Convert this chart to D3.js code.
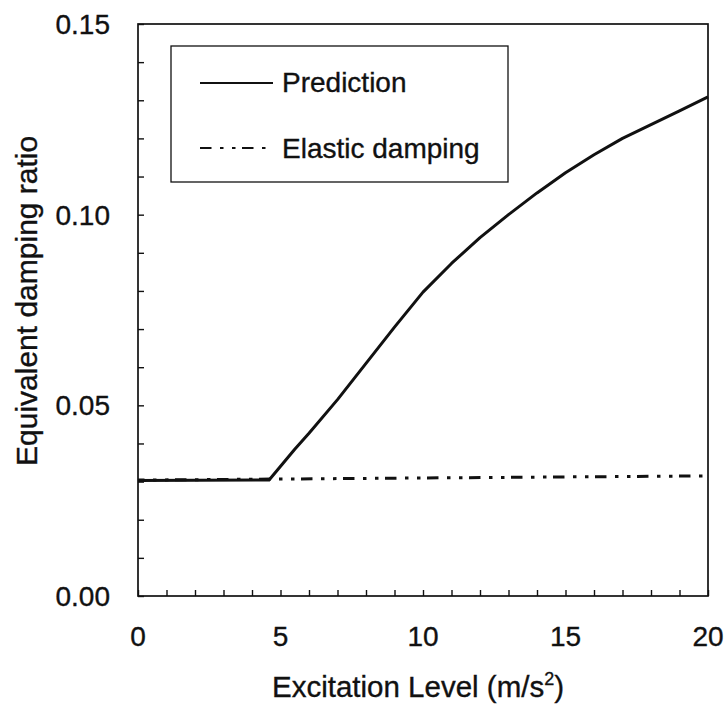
<!DOCTYPE html>
<html>
<head>
<meta charset="utf-8">
<script src="https://cdn.jsdelivr.net/npm/d3@7/dist/d3.min.js"></script>
<style>
  html, body { margin: 0; padding: 0; background: #fff; }
  svg { display: block; }
  text { font-family: "Liberation Sans", Arial, sans-serif; fill: #111; stroke: #111; stroke-width: 0.35px; }
</style>
</head>
<body>
<script>
// Excitation level (m/s^2) and predicted equivalent damping ratio
const predictionX = [0, 4.6, 5.5, 6, 7, 8, 9, 10, 11, 12, 13, 14, 15, 16, 17, 18, 19, 20];
const predictionY = [0.0303, 0.0304, 0.0385, 0.0427, 0.0515, 0.0610, 0.0705, 0.0797, 0.0872,
                     0.0940, 0.1000, 0.1057, 0.1110, 0.1157, 0.1200, 0.1236, 0.1272, 0.1309];

// Elastic (small-strain) damping reference line
const elasticX = [0, 20];
const elasticY = [0.0304, 0.0315];

const xTickLabels = [0, 5, 10, 15, 20];
const yTickLabels = [0.00, 0.05, 0.10, 0.15];
const seriesNames = ["Prediction", "Elastic damping"];

const W = 728, H = 706;
const margin = { left: 138, right: 20, top: 24, bottom: 110 };
const ink = "#111";
const dashDot = "11.5,8.5,3.5,8.5,3.5,6.5";

const svg = d3.select("body").append("svg").attr("width", W).attr("height", H);

const x = d3.scaleLinear().domain([0, 20]).range([margin.left, W - margin.right]);
const y = d3.scaleLinear().domain([0, 0.15]).range([H - margin.bottom, margin.top]);

// Frame
svg.append("rect")
  .attr("x", x(0)).attr("y", y(0.15))
  .attr("width", x(20) - x(0)).attr("height", y(0) - y(0.15))
  .attr("fill", "none").attr("stroke", ink).attr("stroke-width", 1.7);

// Inward ticks, one per unit on x and per 0.01 on y
const xAxis = d3.axisTop(x).tickValues(d3.range(0, 21, 1)).tickSize(6).tickFormat("");
svg.append("g").attr("transform", `translate(0,${y(0)})`).call(xAxis)
  .call(g => g.select(".domain").remove())
  .call(g => g.selectAll("line").attr("stroke", ink).attr("stroke-width", 1.4));

const yAxis = d3.axisRight(y).tickValues(d3.range(0, 16, 1).map(d => d / 100)).tickSize(6).tickFormat("");
svg.append("g").attr("transform", `translate(${x(0)},0)`).call(yAxis)
  .call(g => g.select(".domain").remove())
  .call(g => g.selectAll("line").attr("stroke", ink).attr("stroke-width", 1.4));

// Tick labels
svg.append("g").selectAll("text").data(xTickLabels).join("text")
  .attr("x", d => x(d)).attr("y", 646)
  .attr("text-anchor", "middle").attr("font-size", 28)
  .text(d => d);

svg.append("g").selectAll("text").data(yTickLabels).join("text")
  .attr("x", 110).attr("y", d => y(d) + 10)
  .attr("text-anchor", "end").attr("font-size", 28)
  .text(d => d.toFixed(2));

// Axis titles
const xt = svg.append("text").attr("x", 272).attr("y", 697).attr("font-size", 29.5);
xt.append("tspan").text("Excitation Level (m/s");
xt.append("tspan").attr("font-size", 18).attr("dy", -12).text("2");
xt.append("tspan").attr("dy", 12).text(")");

svg.append("text")
  .attr("transform", "translate(37,466) rotate(-90)")
  .attr("font-size", 30)
  .text("Equivalent damping ratio");

// Series
const line = d3.line().x(d => x(d[0])).y(d => y(d[1]));

svg.append("path")
  .datum(d3.zip(elasticX, elasticY))
  .attr("d", line)
  .attr("fill", "none").attr("stroke", ink).attr("stroke-width", 3)
  .attr("stroke-dasharray", dashDot).attr("stroke-dashoffset", 5);

svg.append("path")
  .datum(d3.zip(predictionX, predictionY))
  .attr("d", line)
  .attr("fill", "none").attr("stroke", ink).attr("stroke-width", 3)
  .attr("stroke-linejoin", "round");

// Legend
const legend = svg.append("g");
legend.append("rect")
  .attr("x", 171).attr("y", 46).attr("width", 337).attr("height", 136)
  .attr("fill", "#fff").attr("stroke", ink).attr("stroke-width", 1.3);

const legendRows = [
  { name: seriesNames[0], dash: null, ly: 83, ty: 92 },
  { name: seriesNames[1], dash: dashDot, ly: 148, ty: 158 }
];
legendRows.forEach(r => {
  legend.append("line")
    .attr("x1", 200).attr("x2", 273).attr("y1", r.ly).attr("y2", r.ly)
    .attr("stroke", ink).attr("stroke-width", 2)
    .attr("stroke-dasharray", r.dash);
  legend.append("text")
    .attr("x", 282).attr("y", r.ty).attr("font-size", 28)
    .text(r.name);
});
</script>
</body>
</html>
